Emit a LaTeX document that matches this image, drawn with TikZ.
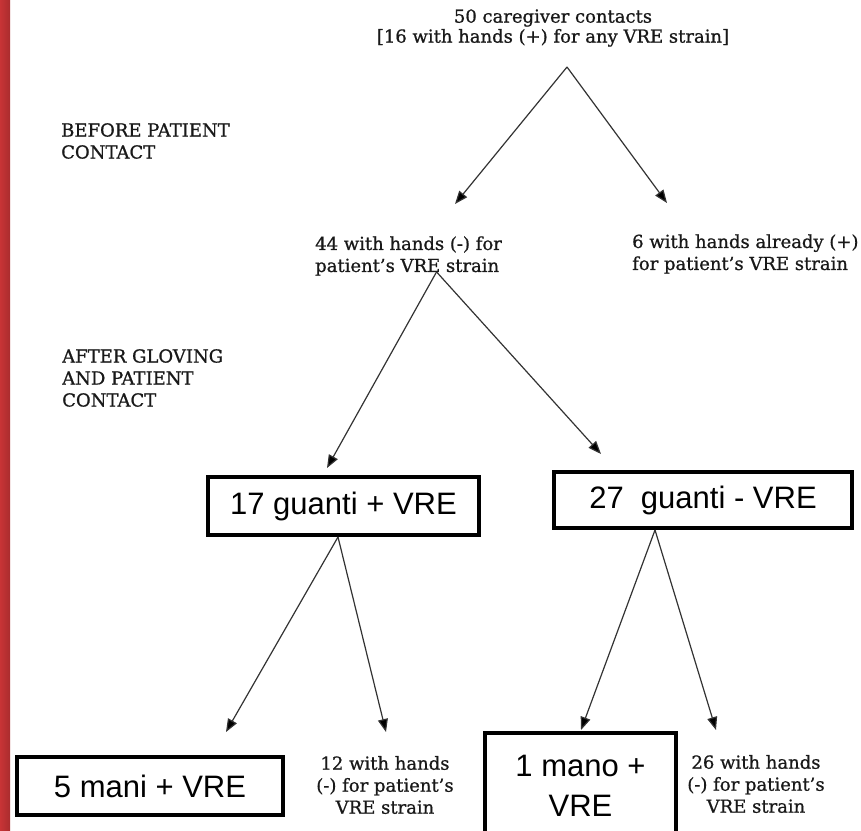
\documentclass[tikz,border=0pt]{standalone}
\usepackage{fontspec}
\setmainfont{DejaVu Serif}[FakeBold=0.8]
\setsansfont{Liberation Sans}
\usepackage{tikz}
\usetikzlibrary{arrows.meta,positioning}

\definecolor{stripred}{RGB}{200,52,54}

\begin{document}
\begin{tikzpicture}[
    x=1pt, y=-1pt,
    lbl/.style={font=\fontsize{18}{22}\selectfont, text=black!90, inner sep=0pt},
    side/.style={lbl, align=left, anchor=west},
    gbox/.style={rectangle, draw=black, line width=4pt, fill=white,
                 font=\sffamily\fontsize{31}{40}\selectfont, inner sep=0pt,
                 align=center},
    arr/.style={-{Triangle[length=13pt,width=10pt,fill=black]}, line width=1.2pt, black!80}
]
    \useasboundingbox (0,0) rectangle (861,830);
    \fill[white] (0,0) rectangle (861,830);
    % red edge on the left
    \shade[left color=stripred, right color=stripred!85!black]
        (0,0) rectangle (10,830);

    % labels
    \node[lbl, align=center, font=\fontsize{18}{20}\selectfont] (top) at (553,28)
        {50 caregiver contacts\\{[16 with hands (+) for any VRE strain]}};
    \node[side] (before) at (61,141) {BEFORE PATIENT\\CONTACT};
    \node[side] (after) at (62,378) {AFTER GLOVING\\AND PATIENT\\CONTACT};
    \node[side] (neg44) at (315,256) {44 with hands (-) for\\patient's VRE strain};
    \node[side] (pos6) at (632,254) {6 with hands already (+)\\for patient's VRE strain};
    \node[lbl, align=center] (neg12) at (385,785) {12 with hands\\(-) for patient's\\VRE strain};
    \node[lbl, align=center] (neg26) at (756,784) {26 with hands\\(-) for patient's\\VRE strain};

    % boxes
    \node[gbox, minimum width=271pt, minimum height=58pt] (box17) at (343.5,506) {17 guanti + VRE};
    \node[gbox, minimum width=298pt, minimum height=56pt] (box27) at (703,500) {27\ \ guanti - VRE};
    \node[gbox, minimum width=266pt, minimum height=58pt] (box5) at (150,786) {5 mani + VRE};
    \node[gbox, minimum width=191pt, minimum height=106pt] (box1) at (580.5,786) {1 mano +\\VRE};

    % split points and arrow ends
    \coordinate (splitA) at (567,67);
    \coordinate (tipA1) at (455,204);
    \coordinate (tipA2) at (667,203);
    \coordinate (splitB) at ([xshift=28pt,yshift=4pt]neg44.south);
    \coordinate (tipB1) at (327,468);
    \coordinate (tipB2) at (601,454);
    \coordinate (tipC1) at (226,732);
    \coordinate (tipC2) at (386,732);
    \coordinate (tipD1) at (581,730);
    \coordinate (tipD2) at (716,730);

    \draw[arr] (splitA) -- (tipA1);
    \draw[arr] (splitA) -- (tipA2);
    \draw[arr] (splitB) -- (tipB1);
    \draw[arr] (splitB) -- (tipB2);
    \draw[arr] ([xshift=-5.5pt]box17.south) -- (tipC1);
    \draw[arr] ([xshift=-5.5pt]box17.south) -- (tipC2);
    \draw[arr] ([xshift=-48pt]box27.south) -- (tipD1);
    \draw[arr] ([xshift=-48pt]box27.south) -- (tipD2);
\end{tikzpicture}
\end{document}
